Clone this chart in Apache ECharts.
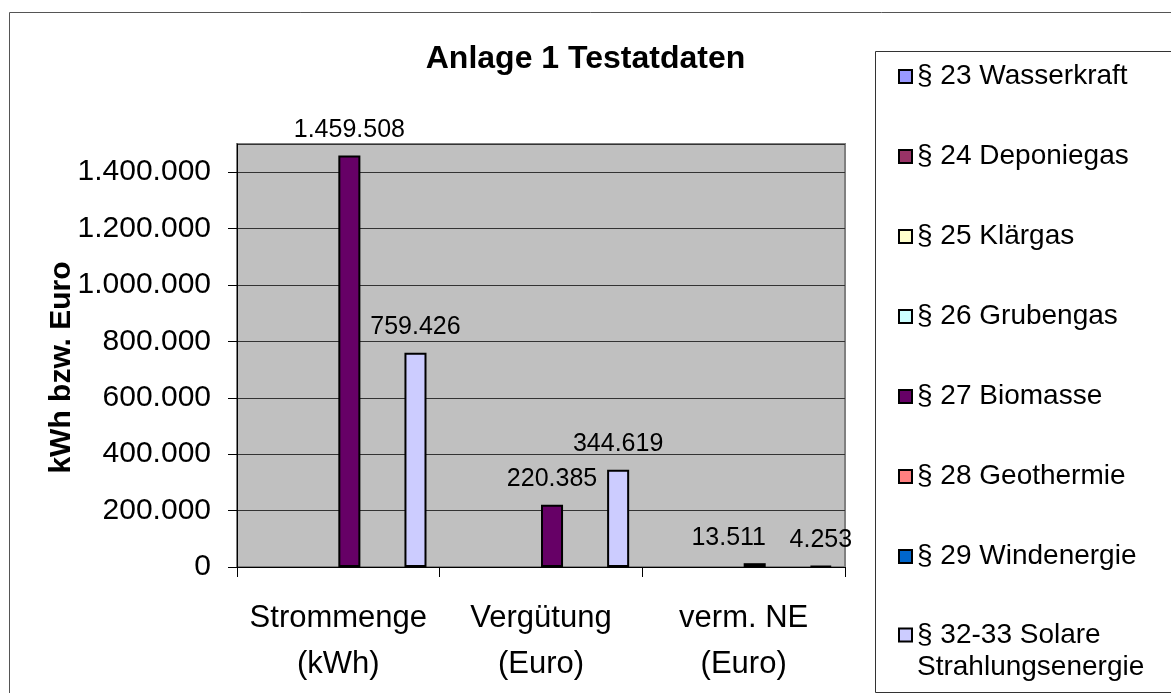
<!DOCTYPE html>
<html>
<head>
<meta charset="utf-8">
<script src="https://cdn.jsdelivr.net/npm/echarts@6/dist/echarts.min.js"></script>
<style>
html,body{margin:0;padding:0;background:#fff;}
#chart{width:1171px;height:693px;}
</style>
</head>
<body>
<div id="chart"></div>
<script>
// categories on the x axis
var categories = ['Strommenge\n(kWh)', 'Vergütung\n(Euro)', 'verm. NE\n(Euro)'];
var seriesNames = [
    '§ 23 Wasserkraft', '§ 24 Deponiegas', '§ 25 Klärgas', '§ 26 Grubengas',
    '§ 27 Biomasse', '§ 28 Geothermie', '§ 29 Windenergie', '§ 32-33 Solare\nStrahlungsenergie'
];
var wasserkraft = [null, null, null];
var deponiegas = [null, null, null];
var klaergas = [null, null, null];
var grubengas = [null, null, null];
var biomasse = [1459508, 220385, 13511];
var geothermie = [null, null, null];
var windenergie = [null, null, null];
var solare = [759426, 344619, 4253];
var yTicks = [0, 1500000, 200000]; // min, max, interval

var colors = ['#9999FF', '#993366', '#FFFFCC', '#CCFFFF', '#660066', '#FF8080', '#0066CC', '#CCCCFF'];
var allValues = [wasserkraft, deponiegas, klaergas, grubengas, biomasse, geothermie, windenergie, solare];
// the 13.511 label sits a bit left of its bar in the original
var labelShift = {4: {2: [-26, 0]}};

var FONT = '"Liberation Sans", Arial, sans-serif';

function deNum(v){
    return String(v).replace(/\B(?=(\d{3})+(?!\d))/g, '.');
}

var series = allValues.map(function(vals, i){
    return {
        name: seriesNames[i],
        type: 'bar',
        barGap: '0%',
        barCategoryGap: '13%',
        itemStyle: {color: colors[i], borderColor: '#000', borderWidth: 2},
        label: {
            show: true, position: 'top', distance: 13,
            color: '#000', fontSize: 25, fontFamily: FONT,
            formatter: function(p){ return deNum(p.value); }
        },
        data: vals.map(function(v, j){
            if (labelShift[i] && labelShift[i][j]) {
                return {value: v, label: {offset: labelShift[i][j]}};
            }
            return v;
        })
    };
});

var legendText = {fontSize: 28, lineHeight: 32, color: '#000', fontFamily: FONT};

var chart = echarts.init(document.getElementById('chart'));
var option = {
    animation: false,
    backgroundColor: '#fff',
    title: {
        text: 'Anlage 1 Testatdaten',
        left: 'center', top: 38,
        textStyle: {fontSize: 32, fontWeight: 'bold', color: '#000', fontFamily: FONT}
    },
    legend: [{
        orient: 'vertical', left: 898, top: 60.5, padding: 0,
        itemWidth: 13, itemHeight: 13, itemGap: 48,
        icon: 'rect',
        itemStyle: {borderColor: '#000', borderWidth: 2},
        data: seriesNames.slice(0, 7),
        textStyle: legendText
    }, {
        // two-line entry: empty first line keeps the square beside "§ 32-33 Solare"
        orient: 'vertical', left: 898, top: 587, padding: 0,
        itemWidth: 13, itemHeight: 13,
        icon: 'rect',
        itemStyle: {borderColor: '#000', borderWidth: 2},
        data: seriesNames.slice(7),
        formatter: function(n){ return '\n' + n; },
        textStyle: legendText
    }],
    grid: {
        left: 237, top: 144, width: 608, height: 423,
        show: true, backgroundColor: '#C0C0C0', borderColor: '#808080', borderWidth: 2
    },
    xAxis: {
        type: 'category',
        data: categories,
        axisLine: {lineStyle: {color: '#000', width: 1}},
        axisTick: {show: true, length: 10, alignWithLabel: false, lineStyle: {color: '#000'}},
        axisLabel: {interval: 0, fontSize: 31, lineHeight: 46, margin: 28, color: '#000', fontFamily: FONT}
    },
    yAxis: {
        type: 'value',
        min: yTicks[0], max: yTicks[1], interval: yTicks[2],
        name: 'kWh bzw. Euro',
        nameLocation: 'middle', nameGap: 160, nameMoveOverlap: false,
        nameTextStyle: {fontSize: 30, fontWeight: 'bold', color: '#000', fontFamily: FONT, padding: [0, 24, 0, 0]},
        axisLine: {show: true, lineStyle: {color: '#000', width: 1}},
        axisTick: {show: true, length: 9, lineStyle: {color: '#000'}},
        axisLabel: {fontSize: 30, margin: 26, color: '#000', fontFamily: FONT, showMaxLabel: false,
            formatter: deNum},
        splitLine: {show: true, lineStyle: {color: '#333', width: 1}}
    },
    graphic: [
        {type: 'rect', left: 7, top: 10, shape: {width: 1180, height: 681},
         style: {fill: 'none', stroke: '#555', lineWidth: 1}, silent: true},
        {type: 'rect', left: 873, top: 49, shape: {width: 296, height: 641},
         style: {fill: 'none', stroke: '#333', lineWidth: 1}, silent: true}
    ],
    series: series
};
chart.setOption(option);
</script>
</body>
</html>
